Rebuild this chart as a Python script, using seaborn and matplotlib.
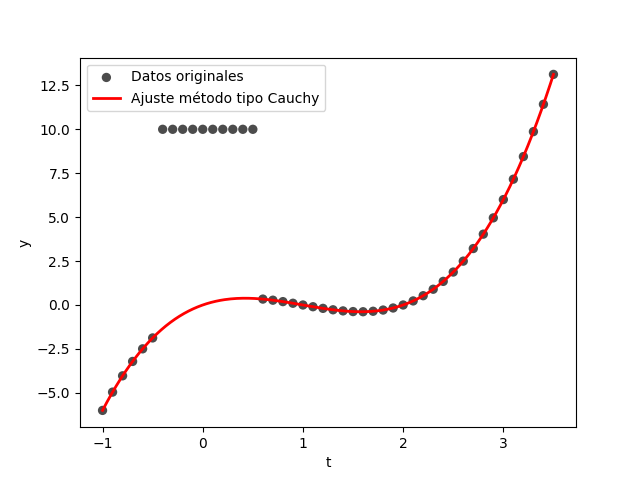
import numpy as np
import matplotlib
matplotlib.use("Agg")
import matplotlib.pyplot as plt
import seaborn as sns

t_data = [-1.0, -0.9, -0.8, -0.7, -0.6, -0.5, -0.4, -0.3, -0.2, -0.1, 0.0,
          0.1, 0.2, 0.3, 0.4, 0.5, 0.6, 0.7, 0.8, 0.9, 1.0, 1.1, 1.2, 1.3,
          1.4, 1.5, 1.6, 1.7, 1.8, 1.9, 2.0, 2.1, 2.2, 2.3, 2.4, 2.5, 2.6,
          2.7, 2.8, 2.9, 3.0, 3.1, 3.2, 3.3, 3.4, 3.5]
y_data = [-6.0, -4.959, -4.032, -3.213, -2.496, -1.875,
          10, 10, 10, 10, 10, 10, 10, 10, 10, 10,
          0.336, 0.273, 0.192, 0.099, 0.0, -0.099, -0.192, -0.273, -0.336,
          -0.375, -0.384, -0.357, -0.288, -0.171, 0.0, 0.231, 0.528, 0.897,
          1.344, 1.875, 2.496, 3.213, 4.032, 4.959, 6.0, 7.161, 8.448, 9.867,
          11.424, 13.125]

# fitted cubic coefficients (highest power first)
fit_coef = [1.0, -3.0, 2.0, 0.0]
t_fit = np.linspace(-1, 3.5, 300)
y_fit = np.polyval(fit_coef, t_fit)

fig, ax = plt.subplots(figsize=(6.4, 4.8), dpi=100)
sns.scatterplot(x=t_data, y=y_data, ax=ax, color="black", alpha=0.7, s=45,
                edgecolor="none", label="Datos originales")
sns.lineplot(x=t_fit, y=y_fit, ax=ax, color="red", linewidth=2,
             label="Ajuste método tipo Cauchy")
ax.set_xlabel("t")
ax.set_ylabel("y")
ax.legend(loc="upper left")
fig.savefig("out.png")
